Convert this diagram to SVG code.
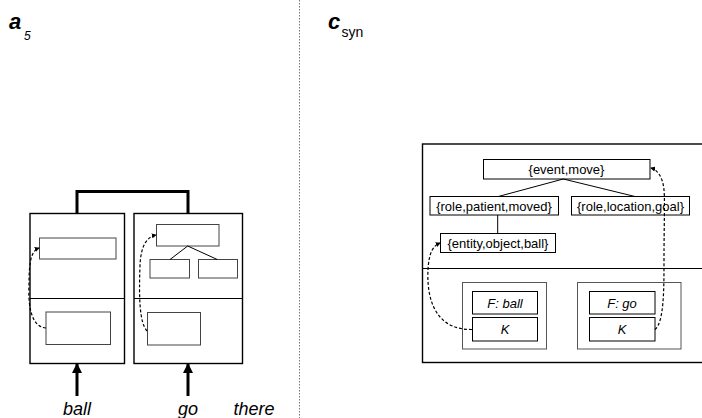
<svg xmlns="http://www.w3.org/2000/svg" width="702" height="418" viewBox="0 0 702 418">
<style>
.t{font-family:"Liberation Sans",Arial,sans-serif;fill:#000}
.lbl{font-size:13px;text-anchor:middle}
.it{font-style:italic}
.box{fill:#fff;stroke:#000;stroke-width:1.4}
.inner{fill:#fff;stroke:#444;stroke-width:1}
.nb{fill:#fff;stroke:#000;stroke-width:1}
.cont{fill:none;stroke:#555;stroke-width:1}
.ln{stroke:#000;stroke-width:1;fill:none}
.dash{fill:none;stroke:#000;stroke-width:1.2;stroke-dasharray:3 2}
.thick{stroke:#000;stroke-width:3;fill:none}
</style>
<defs>
<marker id="sa" viewBox="0 0 6 6" refX="5" refY="3" markerWidth="5" markerHeight="5" orient="auto" markerUnits="userSpaceOnUse">
<path d="M0,0 L6,3 L0,6 Z" fill="#000"/>
</marker>
<marker id="ba" viewBox="0 0 10 10" refX="9" refY="5" markerWidth="10" markerHeight="10" orient="auto" markerUnits="userSpaceOnUse">
<path d="M0,0 L10,5 L0,10 Z" fill="#000"/>
</marker>
</defs>
<rect width="702" height="418" fill="#fff"/>
<line x1="299.5" y1="0" x2="299.5" y2="418" stroke="#777" stroke-width="1" stroke-dasharray="1.5 1.5"/>
<g id="title-a">
<text class="t it" x="9" y="29" font-size="22" font-weight="bold">a</text>
<text class="t it" x="24" y="40" font-size="12">5</text>
</g>
<g id="title-c">
<text class="t it" x="328" y="29" font-size="22" font-weight="bold">c</text>
<text class="t" x="341.5" y="36.5" font-size="14">syn</text>
</g>
<g id="a-ball">
<rect class="box" x="30" y="213.5" width="94.5" height="150"/>
<line class="ln" x1="30" y1="298.5" x2="124.5" y2="298.5" stroke-width="1.4"/>
<rect class="inner" x="39.5" y="238" width="76.5" height="21"/>
<rect class="inner" x="46" y="312" width="64.5" height="32.5"/>
</g>
<g id="a-go">
<rect class="box" x="134" y="213.5" width="108.5" height="150"/>
<line class="ln" x1="134" y1="298.5" x2="242.5" y2="298.5" stroke-width="1.4"/>
<rect class="inner" x="156.5" y="224.5" width="62.5" height="21.5"/>
<rect class="inner" x="150" y="259.5" width="39.5" height="18.5"/>
<rect class="inner" x="198.5" y="259.5" width="39" height="18.5"/>
<rect class="inner" x="147.5" y="312.5" width="53" height="32.5"/>
</g>
<g id="c-outer">
<rect class="box" x="422.5" y="144" width="290" height="218.5"/>
<line class="ln" x1="422.5" y1="268.5" x2="702" y2="268.5" stroke-width="1.4"/>
</g>
<g id="n-event">
<rect class="nb" x="483.5" y="159.5" width="166.5" height="19.5"/>
<text class="t lbl" x="566.5" y="174">{event,move}</text>
</g>
<g id="n-patient">
<rect class="nb" x="430" y="196.5" width="128.5" height="18.5"/>
<text class="t lbl" x="494" y="210.5">{role,patient,moved}</text>
</g>
<g id="n-location">
<rect class="nb" x="571.5" y="196.5" width="118" height="18.5"/>
<text class="t lbl" x="630.5" y="210.5">{role,location,goal}</text>
</g>
<g id="n-entity">
<rect class="nb" x="440.5" y="233.5" width="115" height="19"/>
<text class="t lbl" x="498" y="247.5">{entity,object,ball}</text>
</g>
<g id="n-ball">
<rect class="cont" x="462.5" y="282.5" width="84" height="66.5"/>
<rect class="nb" x="472.5" y="291.5" width="65" height="22.5"/>
<text class="t lbl it" x="505" y="307.5">F: ball</text>
<rect class="nb" x="472.5" y="317.5" width="65" height="23.5"/>
<text class="t lbl it" x="505" y="334">K</text>
</g>
<g id="n-go">
<rect class="cont" x="577.5" y="282.5" width="103.5" height="66.5"/>
<rect class="nb" x="589.5" y="291.5" width="65.5" height="22.5"/>
<text class="t lbl it" x="622" y="307.5">F: go</text>
<rect class="nb" x="589.5" y="317.5" width="65.5" height="23.5"/>
<text class="t lbl it" x="622" y="334">K</text>
</g>
<g id="words">
<text class="t it" x="77" y="415" font-size="18" text-anchor="middle">ball</text>
<text class="t it" x="188" y="415" font-size="18" text-anchor="middle">go</text>
<text class="t it" x="254" y="415" font-size="18" text-anchor="middle">there</text>
</g>
<g id="connectors">
<path class="thick" d="M77,213.5 V191.5 H188 V213.5"/>
<line class="ln" x1="187.7" y1="246" x2="170" y2="259.5"/>
<line class="ln" x1="187.7" y1="246" x2="217.3" y2="259.5"/>
<line class="thick" x1="77" y1="396" x2="77" y2="364" marker-end="url(#ba)"/>
<line class="thick" x1="188" y1="396" x2="188" y2="364" marker-end="url(#ba)"/>
<path class="dash" d="M46,328 C31,327 28,305 29,285 C29,262 31,251 39,248" marker-end="url(#sa)"/>
<path class="dash" d="M147,331 C139,322 139,295 140,265 C141,245 147,237 156,235" marker-end="url(#sa)"/>
<line class="ln" x1="563.3" y1="179" x2="498.3" y2="196.5"/>
<line class="ln" x1="563.3" y1="179" x2="635" y2="196.5"/>
<line class="ln" x1="497.7" y1="215" x2="497.7" y2="233.5"/>
<path class="dash" d="M472,329.5 C430,330 427,290 428,270 C429,252 433,246 440,243" marker-end="url(#sa)"/>
<path class="dash" d="M655,329.5 C664,322 664,290 664,260 C664,225 665,200 664,190 C663,178 658,170 651,168" marker-end="url(#sa)"/>
</g>
</svg>
